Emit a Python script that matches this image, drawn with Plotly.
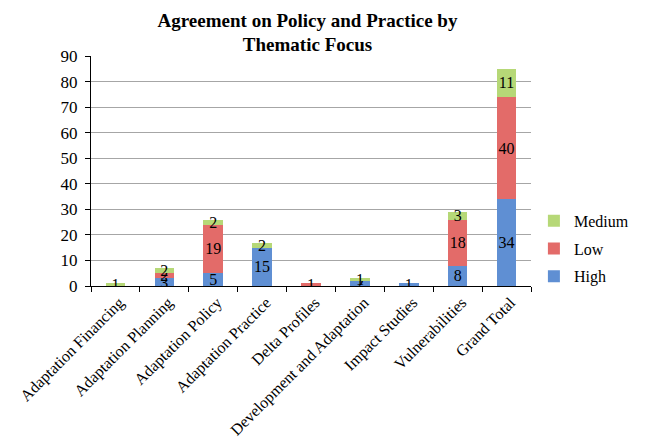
import plotly.graph_objects as go

categories = ["Adaptation Financing", "Adaptation Planning", "Adaptation Policy",
              "Adaptation Practice", "Delta Profiles", "Development and Adaptation",
              "Impact Studies", "Vulnerabilities", "Grand Total"]
high = [0, 3, 5, 15, 0, 2, 1, 8, 34]
low = [0, 2, 19, 0, 1, 0, 0, 18, 40]
medium = [1, 2, 2, 2, 0, 1, 0, 3, 11]

series = [("High", high, "#5F8FD3", 3), ("Low", low, "#E36B69", 2), ("Medium", medium, "#B6D877", 1)]

FONT = "Liberation Serif"
fig = go.Figure()
for name, vals, color, rank in series:
    fig.add_trace(go.Bar(
        name=name, x=categories, y=vals,
        marker=dict(color=color, line=dict(width=0)),
        text=[str(v) if v else "" for v in vals],
        textposition="inside", insidetextanchor="middle", textangle=0,
        textfont=dict(family=FONT, size=16, color="black"),
        legendgroup=name, legendrank=rank,
    ))

fig.update_layout(
    barmode="stack", bargap=0.6,
    width=646, height=446,
    paper_bgcolor="white", plot_bgcolor="white",
    margin=dict(l=91, r=101, t=56, b=160),
    font=dict(family=FONT, size=16, color="black"),
    title=dict(text="<b>Agreement on Policy and Practice by<br>Thematic Focus</b>",
               x=0.476, xanchor="center", y=0.94, yanchor="top",
               font=dict(family=FONT, size=19, color="black")),
    uniformtext=dict(minsize=15, mode="show"),
    legend=dict(x=1.0066, xanchor="left", y=0.162, yanchor="middle",
                traceorder="grouped", tracegroupgap=4,
                font=dict(family=FONT, size=16, color="black")),
    xaxis=dict(type="category", tickangle=-45, showline=True, linecolor="black",
               linewidth=1, ticks="outside", tickson="boundaries", ticklen=5,
               tickcolor="black", tickfont=dict(family=FONT, size=16), automargin=False,
               ticklabelshift=4, ticklabelstandoff=0),
    yaxis=dict(range=[0, 90], dtick=10, showgrid=True, gridcolor="#A6A6A6",
               gridwidth=1, showline=True, linecolor="black", linewidth=1,
               ticks="outside", ticklen=5, tickcolor="black", zeroline=False,
               tickfont=dict(family=FONT, size=17), automargin=False,
               ticklabelstandoff=4),
)
fig.write_html("out.html", config={"displayModeBar": False},
               post_script="document.body.style.margin='0';document.body.style.overflow='hidden';")
